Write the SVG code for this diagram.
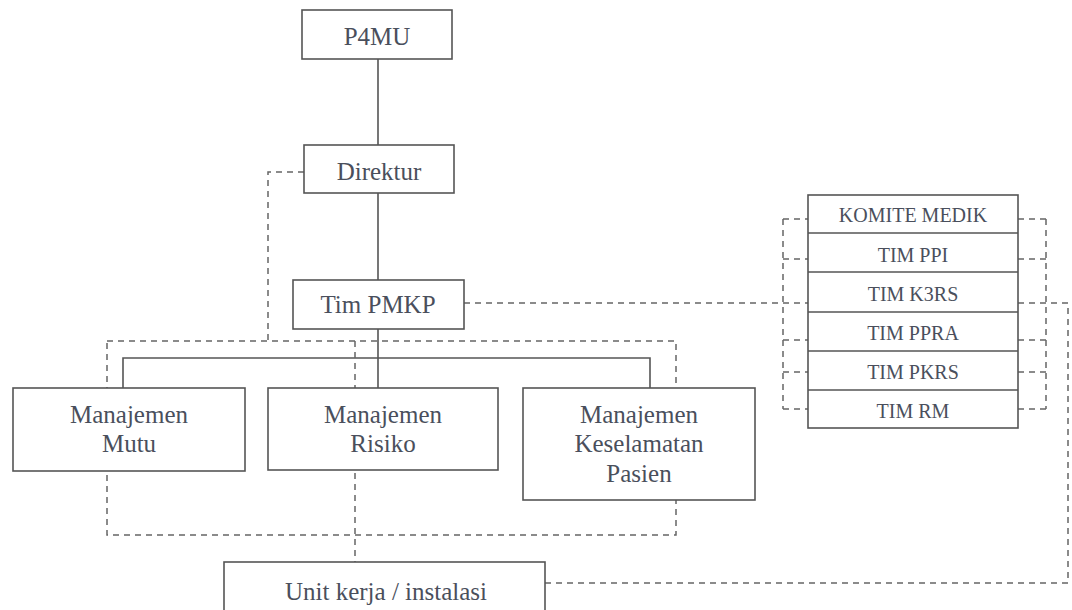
<svg xmlns="http://www.w3.org/2000/svg" width="1072" height="610" viewBox="0 0 1072 610">
<style>
.box{fill:#fff;stroke:#555;stroke-width:1.6}
.solid{fill:none;stroke:#555;stroke-width:1.6}
.dash{fill:none;stroke:#666;stroke-width:1.5;stroke-dasharray:6 5}
text{font-family:'Liberation Serif',serif;fill:#4a4f5c;text-anchor:middle}
.t{font-size:25px}
.s{font-size:20px}
</style>
<rect width="1072" height="610" fill="#fff"/>
<g id="connectors">
<path class="solid" d="M378 59V388M123 388V358H650V388"/>
<path class="dash" d="M304 172H268V341"/>
<path class="dash" d="M107 341H676V535H107Z"/>
<path class="dash" d="M355 341V562"/>
<path class="dash" d="M464 303H808"/>
<path class="dash" d="M1018 303H1068V583H545"/>
<path class="dash" d="M783 219V409M783 219H808M783 259H808M783 340H808M783 372H808M783 409H808"/>
<path class="dash" d="M1046 219V409M1018 219H1046M1018 259H1046M1018 340H1046M1018 372H1046M1018 409H1046"/>
</g>
<g id="p4mu"><rect class="box" x="302" y="10" width="150" height="49"/><text class="t" x="377" y="45">P4MU</text></g>
<g id="direktur"><rect class="box" x="304" y="145" width="150" height="48"/><text class="t" x="379" y="180">Direktur</text></g>
<g id="tim-pmkp"><rect class="box" x="293" y="280" width="171" height="49"/><text class="t" x="378" y="313">Tim PMKP</text></g>
<g id="mutu"><rect class="box" x="13" y="388" width="232" height="83"/><text class="t" x="129" y="423">Manajemen</text><text class="t" x="129" y="452">Mutu</text></g>
<g id="risiko"><rect class="box" x="268" y="388" width="230" height="82"/><text class="t" x="383" y="423">Manajemen</text><text class="t" x="383" y="452">Risiko</text></g>
<g id="keselamatan"><rect class="box" x="523" y="388" width="232" height="112"/><text class="t" x="639" y="423">Manajemen</text><text class="t" x="639" y="452">Keselamatan</text><text class="t" x="639" y="482">Pasien</text></g>
<g id="unit-kerja"><rect class="box" x="224" y="562" width="321" height="60"/><text class="t" x="386" y="600">Unit kerja  / instalasi</text></g>
<g id="tim-list">
<rect class="box" x="808" y="195" width="210" height="233"/>
<path class="solid" d="M808 233H1018M808 272H1018M808 312H1018M808 351H1018M808 390H1018"/>
<text class="s" x="913" y="222">KOMITE MEDIK</text>
<text class="s" x="913" y="262">TIM PPI</text>
<text class="s" x="913" y="301">TIM K3RS</text>
<text class="s" x="913" y="340">TIM PPRA</text>
<text class="s" x="913" y="379">TIM PKRS</text>
<text class="s" x="913" y="418">TIM RM</text>
</g>
</svg>
